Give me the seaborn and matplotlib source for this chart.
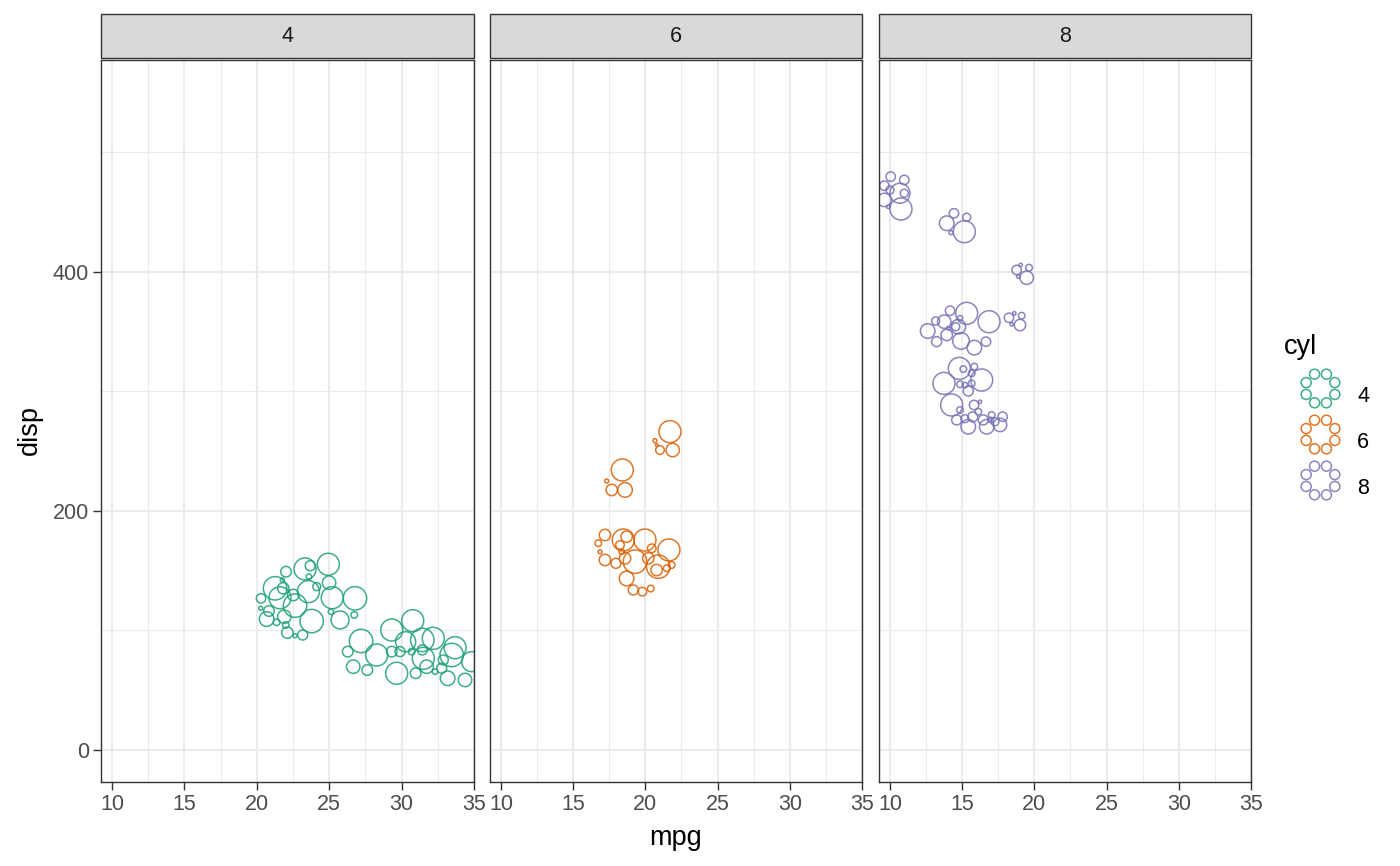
import numpy as np
import pandas as pd
import matplotlib
matplotlib.use("Agg")
import matplotlib.pyplot as plt
import seaborn as sns
from matplotlib.path import Path
from matplotlib.lines import Line2D
from matplotlib.markers import MarkerStyle
from matplotlib.patches import Rectangle

# ---------------- data ----------------
cyl_levels = ["4", "6", "8"]
cyl_colors = ["#1B9E77", "#D95F02", "#7570B3"]

mpg_4 = [20.29, 20.27, 21.26, 22.02, 21.76, 23.33, 23.69, 24.94, 23.60, 24.99, 24.14, 23.56, 21.83, 22.52,
         25.21, 26.78, 21.60, 22.64, 20.84, 20.68, 21.37, 21.90, 22.00, 23.79, 25.12, 25.75, 26.73, 22.11,
         22.64, 23.17, 27.20, 26.28, 26.66, 27.63, 28.28, 29.32, 30.77, 29.66, 29.32, 29.89, 30.28, 31.43,
         32.19, 30.70, 31.43, 31.50, 30.97, 31.73, 32.31, 33.69, 33.46, 32.88, 32.77, 33.18, 34.38, 34.84]
disp_4 = [126.9, 118.6, 135.3, 149.2, 142.3, 151.5, 154.2, 155.4, 145.0, 140.0, 136.7, 132.5, 135.3, 129.7,
          127.4, 126.9, 127.4, 120.8, 116.3, 109.6, 106.9, 111.5, 104.6, 107.9, 115.7, 108.8, 113.0, 98.2,
          95.6, 96.2, 91.2, 82.3, 69.7, 66.9, 79.5, 100.4, 108.2, 64.2, 82.3, 82.3, 90.6, 92.1,
          93.4, 82.3, 83.7, 76.7, 64.2, 69.7, 65.5, 85.6, 79.5, 75.3, 68.4, 60.0, 58.6, 73.9]
size_4 = [4.7, 2, 11.7, 5.3, 2, 11, 5, 11, 2.7, 6.7, 4, 11, 5.7, 5.7,
          11, 11.7, 11, 11.7, 5.3, 7.3, 3.3, 6.7, 3.3, 11.7, 2.7, 9, 3.3, 5.7,
          2, 5, 11.7, 5.3, 6.7, 5.3, 11, 11, 11, 11, 5.3, 5, 10, 11.7,
          11, 3.3, 5, 11, 5.3, 6.7, 2.7, 11, 11.7, 5, 5, 7.3, 6.7, 10]

mpg_6 = [21.70, 20.66, 21.01, 21.89, 20.78, 18.40, 17.32, 17.67, 18.59, 17.20, 16.74, 16.86, 17.20, 17.96,
         18.47, 18.70, 18.24, 19.97, 18.59, 19.28, 20.44, 20.20, 21.63, 20.89, 20.78, 21.48, 21.82, 18.70,
         19.16, 19.79, 20.37, 18.36]
disp_6 = [266.4, 258.8, 251.0, 251.0, 255.2, 234.3, 225.1, 217.6, 217.6, 179.9, 173.0, 165.9, 159.0, 156.2,
          175.7, 178.5, 171.5, 175.7, 160.4, 157.6, 168.8, 160.4, 167.4, 153.4, 150.6, 152.1, 154.8, 143.5,
          133.9, 132.5, 135.1, 165.9]
size_6 = [11, 2, 4.3, 6.7, 1.3, 11, 2, 5.7, 7.3, 5.7, 3.3, 2, 5.7, 5,
          11, 5.7, 4.3, 11, 5.7, 11.7, 4.3, 5.7, 11, 11.7, 5.7, 3.3, 3.3, 7.3,
          5, 4.3, 3.3, 2.7]

mpg_8 = [10.05, 10.99, 9.61, 10.00, 10.69, 10.99, 9.61, 10.76, 9.88, 13.93, 14.43, 15.31, 15.15, 14.22,
         18.77, 19.05, 19.63, 19.47, 18.88, 12.61, 13.23, 13.16, 13.76, 14.16, 13.93, 14.73, 14.85, 15.31,
         14.92, 15.84, 16.65, 16.86, 14.55, 14.04, 18.24, 18.61, 19.12, 19.00, 18.43, 13.74, 14.80, 16.35,
         15.08, 15.84, 15.66, 15.19, 15.66, 15.42, 14.85, 14.27, 14.85, 15.82, 16.23, 16.12, 14.62, 15.19,
         15.42, 15.73, 16.46, 16.70, 17.04, 16.97, 17.62, 17.80, 17.27]
disp_8 = [479.8, 477.0, 472.2, 468.6, 465.9, 465.9, 460.3, 452.7, 454.6, 440.8, 449.1, 445.8, 433.7, 432.9,
          401.7, 405.9, 403.6, 395.2, 396.1, 350.6, 341.7, 359.0, 358.4, 367.6, 347.3, 354.2, 361.3, 365.4,
          342.3, 336.7, 341.7, 358.4, 354.2, 352.9, 361.7, 365.4, 363.4, 355.6, 356.2, 306.8, 319.3, 309.6,
          318.8, 320.8, 315.2, 305.4, 306.8, 300.4, 306.0, 288.7, 284.5, 288.7, 291.4, 283.1, 276.2, 277.2,
          270.5, 278.7, 276.2, 270.5, 280.3, 276.2, 272.0, 278.9, 274.7]
size_8 = [4.7, 4.7, 4.7, 4, 10, 4, 6.7, 11, 1.7, 7.3, 4.7, 4, 11, 2,
          4.7, 1.7, 3.3, 6.7, 1.7, 7.3, 5, 4, 6.7, 4.7, 5.7, 7.3, 2.7, 11,
          8.3, 7.3, 4.7, 11, 4, 1.7, 4.7, 1.7, 3.3, 5.7, 1.7, 11, 11, 11,
          3.3, 3.3, 3.3, 2.7, 3.3, 5, 3.3, 11, 3.3, 4.7, 1.7, 3.3, 5, 4,
          7.3, 5, 5, 7.3, 3.3, 2.7, 6.7, 4.7, 4]

x_ticks = [10, 15, 20, 25, 30, 35]
y_ticks = [0, 200, 400]

frames = []
for lev, m, d, s in [("4", mpg_4, disp_4, size_4), ("6", mpg_6, disp_6, size_6), ("8", mpg_8, disp_8, size_8)]:
    frames.append(pd.DataFrame({"cyl": lev, "mpg": m, "disp": d, "size": s}))
df = pd.concat(frames, ignore_index=True)

# ---------------- styling ----------------
sns.set_theme(style="white")
plt.rcParams["font.family"] = ["Liberation Sans", "DejaVu Sans"]

W, H = 1400, 866
DPI = 100
PX2PT = 72.0 / DPI
fig = plt.figure(figsize=(W / DPI, H / DPI), dpi=DPI)

def fx(px):
    return px / W

def fy(py):
    return 1 - py / H

TICK_FS = 15.5
TITLE_FS = 19.5
LW = 1.1

# marker area from radius (px)
df["area"] = (2 * df["size"] * PX2PT) ** 2
amin, amax = df["area"].min(), df["area"].max()

panels = [(101, 474), (490, 862), (879, 1251)]
top, bottom = 60, 782
strip_top, strip_bot = 14, 58
xlim = (9.24, 35.0)
ylim = (-26.8, 577.4)
dark = "#333333"

for i, (lev, col) in enumerate(zip(cyl_levels, cyl_colors)):
    l, r = panels[i]
    ax = fig.add_axes([fx(l), fy(bottom), (r - l) / W, (bottom - top) / H])
    sub = df[df["cyl"] == lev]
    sns.scatterplot(data=sub, x="mpg", y="disp", size="area", sizes=(amin, amax),
                    size_norm=(amin, amax), legend=False, ax=ax,
                    color=col, facecolor="none", edgecolor=col, linewidth=LW, alpha=0.85)
    ax.set_xlim(*xlim)
    ax.set_ylim(*ylim)
    ax.set_xticks(x_ticks)
    ax.set_xticks([12.5, 17.5, 22.5, 27.5, 32.5], minor=True)
    ax.set_yticks(y_ticks)
    ax.set_yticks([100, 300, 500], minor=True)
    ax.grid(True, which="major", color="#EBEBEB", linewidth=1.45)
    ax.grid(True, which="minor", color="#EBEBEB", linewidth=0.75)
    ax.set_axisbelow(True)
    ax.set_xlabel("")
    ax.set_ylabel("")
    for sp in ax.spines.values():
        sp.set_color(dark)
        sp.set_linewidth(1.0)
        sp.set_visible(True)
    ax.tick_params(axis="both", which="major", direction="out", length=5.5, width=1.0,
                   color=dark, labelcolor="#4D4D4D", labelsize=TICK_FS, pad=3,
                   bottom=True, left=(i == 0), labelleft=(i == 0))
    ax.tick_params(axis="both", which="minor", length=0)
    # strip
    fig.add_artist(Rectangle((fx(l), fy(strip_bot)), (r - l) / W, (strip_bot - strip_top) / H,
                             transform=fig.transFigure, facecolor="#D9D9D9",
                             edgecolor=dark, linewidth=1.0))
    fig.text(fx((l + r) / 2), fy((strip_top + strip_bot) / 2), lev, ha="center", va="center",
             fontsize=TICK_FS, color="#1A1A1A")

fig.text(fx(676), fy(838), "mpg", ha="center", va="center", fontsize=TITLE_FS, color="black")
fig.text(fx(30), fy(430), "disp", ha="center", va="center", rotation=90, fontsize=TITLE_FS, color="black")

# ---------------- legend: ring of 8 circles ----------------
ring_r, circ_r = 15.5, 5.0
angles = np.deg2rad(22.5 + 45 * np.arange(8))
ring = Path.make_compound_path(*[Path.circle((ring_r * np.cos(a), ring_r * np.sin(a)), circ_r) for a in angles])
ext = np.max(np.abs(ring.vertices))
ms = 2 * ext * PX2PT
handles = [Line2D([], [], linestyle="none", marker=MarkerStyle(ring), markersize=ms,
                  markerfacecolor="none", markeredgecolor=c, markeredgewidth=LW, alpha=0.85)
           for c in cyl_colors]
fs = TICK_FS
row_pt = 40 * PX2PT
hh = (row_pt / fs - 0.245) / 0.65
fig.text(fx(1284), fy(347), "cyl", ha="left", va="center", fontsize=TITLE_FS, color="black")
leg = fig.legend(handles, cyl_levels, loc="upper left", bbox_to_anchor=(fx(1284), fy(375)),
                 frameon=False, fontsize=fs, handlelength=2 * 36 * PX2PT / fs,
                 handleheight=hh, labelspacing=6 * PX2PT / fs, handletextpad=0.05,
                 borderpad=0, borderaxespad=0)
for t in leg.get_texts():
    t.set_color("black")

fig.savefig("out.png", dpi=DPI)
